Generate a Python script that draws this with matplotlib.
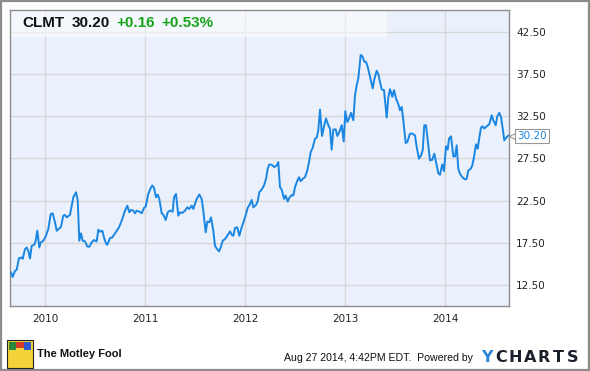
import matplotlib
matplotlib.use('Agg')
import matplotlib.pyplot as plt
import matplotlib.transforms as mtransforms
from matplotlib.patches import Rectangle

# CLMT weekly-ish closes (decimal year, price)
years = [
    2009.66, 2009.677, 2009.70, 2009.717, 2009.74, 2009.767, 2009.777, 2009.80, 2009.817, 2009.833,
    2009.85, 2009.867, 2009.893, 2009.907, 2009.923, 2009.943, 2009.957, 2009.983, 2010.007, 2010.033,
    2010.057, 2010.077, 2010.10, 2010.117, 2010.143, 2010.16, 2010.183, 2010.20, 2010.217, 2010.25,
    2010.267, 2010.283, 2010.31, 2010.327, 2010.343, 2010.36, 2010.377, 2010.40, 2010.423, 2010.443,
    2010.467, 2010.49, 2010.517, 2010.533, 2010.55, 2010.573, 2010.59, 2010.61, 2010.623, 2010.65,
    2010.673, 2010.70, 2010.74, 2010.767, 2010.80, 2010.823, 2010.843, 2010.86, 2010.883, 2010.90,
    2010.917, 2010.943, 2010.967, 2010.99, 2011.007, 2011.033, 2011.057, 2011.073, 2011.09, 2011.11,
    2011.127, 2011.143, 2011.167, 2011.183, 2011.207, 2011.227, 2011.25, 2011.277, 2011.29, 2011.31,
    2011.333, 2011.35, 2011.373, 2011.40, 2011.423, 2011.443, 2011.467, 2011.483, 2011.517, 2011.543,
    2011.567, 2011.583, 2011.607, 2011.623, 2011.643, 2011.66, 2011.683, 2011.70, 2011.717, 2011.74,
    2011.757, 2011.777, 2011.80, 2011.823, 2011.85, 2011.867, 2011.883, 2011.90, 2011.923, 2011.943,
    2011.967, 2012.00, 2012.027, 2012.05, 2012.067, 2012.083, 2012.11, 2012.127, 2012.143, 2012.167,
    2012.19, 2012.21, 2012.227, 2012.243, 2012.267, 2012.293, 2012.317, 2012.333, 2012.35, 2012.367,
    2012.39, 2012.407, 2012.427, 2012.443, 2012.467, 2012.483, 2012.50, 2012.517, 2012.54, 2012.557,
    2012.577, 2012.60, 2012.623, 2012.64, 2012.657, 2012.677, 2012.70, 2012.717, 2012.733, 2012.75,
    2012.77, 2012.79, 2012.81, 2012.833, 2012.85, 2012.867, 2012.883, 2012.907, 2012.923, 2012.943,
    2012.967, 2012.987, 2013.003, 2013.023, 2013.04, 2013.06, 2013.083, 2013.10, 2013.117, 2013.133,
    2013.157, 2013.173, 2013.193, 2013.21, 2013.227, 2013.25, 2013.277, 2013.293, 2013.317, 2013.333,
    2013.35, 2013.367, 2013.39, 2013.417, 2013.433, 2013.45, 2013.473, 2013.49, 2013.51, 2013.533,
    2013.55, 2013.567, 2013.583, 2013.607, 2013.623, 2013.65, 2013.673, 2013.70, 2013.717, 2013.74,
    2013.76, 2013.777, 2013.793, 2013.81, 2013.823, 2013.85, 2013.873, 2013.893, 2013.917, 2013.933,
    2013.95, 2013.973, 2013.99, 2014.01, 2014.027, 2014.04, 2014.06, 2014.083, 2014.10, 2014.117,
    2014.133, 2014.15, 2014.173, 2014.20, 2014.217, 2014.233, 2014.257, 2014.273, 2014.293, 2014.31,
    2014.327, 2014.343, 2014.36, 2014.377, 2014.393, 2014.417, 2014.443, 2014.467, 2014.483, 2014.507,
    2014.523, 2014.543, 2014.56, 2014.577, 2014.593, 2014.617, 2014.635,
]
prices = [
    13.97, 13.45, 14.17, 14.3, 15.68, 15.75, 15.6, 16.75, 16.94, 16.55,
    15.63, 17.14, 17.26, 17.74, 18.93, 16.94, 17.54, 17.74, 18.25, 19.12,
    20.9, 20.98, 19.92, 18.93, 19.2, 19.4, 20.71, 20.8, 20.51, 20.8,
    21.9, 22.89, 23.49, 22.58, 17.74, 18.61, 17.74, 17.66, 17.06, 17.02,
    17.54, 17.82, 17.66, 19.05, 18.81, 18.93, 18.13, 17.42, 17.26, 18.06,
    18.13, 18.61, 19.33, 20.12, 21.31, 21.9, 21.11, 21.39, 21.31, 20.99,
    21.31, 21.19, 20.99, 21.63, 21.79, 23.29, 24.0, 24.29, 24.0, 22.89,
    23.21, 22.7, 20.99, 20.83, 20.2, 21.11, 21.31, 21.19, 22.89, 23.29,
    20.71, 21.11, 21.03, 21.31, 21.7, 21.51, 21.9, 21.51, 22.7, 23.21,
    22.7, 21.31, 18.73, 20.0, 19.92, 20.51, 18.93, 17.14, 16.82, 16.47,
    16.94, 17.74, 17.94, 18.33, 18.85, 18.45, 18.33, 19.25, 19.33, 18.33,
    19.33, 20.51, 21.63, 22.1, 22.58, 21.7, 21.98, 22.41, 23.49, 23.81,
    24.29, 25.08, 26.27, 26.79, 26.75, 26.47, 26.67, 27.06, 24.08, 23.81,
    22.7, 23.1, 22.38, 22.82, 23.17, 23.1, 24.08, 24.68, 25.27, 24.8,
    25.08, 25.27, 26.07, 27.06, 28.25, 28.77, 29.85, 29.96, 30.83, 33.3,
    30.16, 31.31, 32.23, 31.43, 31.04, 28.54, 30.92, 30.95, 30.16, 30.63,
    31.43, 29.52, 33.1, 31.82, 32.23, 32.9, 32.02, 35.0, 36.19, 36.99,
    39.76, 39.64, 38.96, 38.96, 38.37, 37.18, 35.8, 36.87, 37.89, 37.5,
    36.58, 35.68, 35.6, 32.34, 34.72, 35.71, 34.8, 35.6, 34.61, 33.93,
    33.21, 33.61, 32.02, 29.32, 29.44, 30.44, 30.44, 30.24, 28.85, 27.46,
    27.86, 28.45, 31.43, 31.43, 30.04, 27.26, 27.34, 28.06, 26.67, 25.75,
    25.56, 26.79, 25.99, 28.93, 28.54, 29.85, 30.12, 27.74, 27.74, 29.05,
    26.27, 25.68, 25.27, 25.0, 25.08, 26.07, 26.27, 26.67, 27.86, 29.17,
    28.65, 29.96, 31.15, 31.31, 31.04, 31.31, 31.55, 32.62, 32.02, 31.43,
    32.5, 32.9, 32.42, 31.04, 29.64, 30.04, 30.20,
]

x_ticks = [2010, 2011, 2012, 2013, 2014]
x_labels = ['2010', '2011', '2012', '2013', '2014']
y_ticks = [12.5, 17.5, 22.5, 27.5, 32.5, 37.5, 42.5]

ticker = 'CLMT'
last_price = '30.20'
change = '+0.16'
change_pct = '+0.53%'

W, H = 590, 371
fig = plt.figure(figsize=(W / 100, H / 100), dpi=100)
fig.patch.set_facecolor('white')


def fx(px):
    return px / W


def fy(py):
    return 1 - py / H


# outer frame of the image
fig.add_artist(Rectangle((0.001, 0.002), 0.997, 0.996, transform=fig.transFigure,
                         fill=False, edgecolor='#8c8c8c', linewidth=1.6))

ax = fig.add_axes([fx(10), fy(306), fx(509) - fx(10), fy(10) - fy(306)])
ax.set_facecolor('#eaf1fc')
ax.plot(years, prices, color='#1a86e3', linewidth=1.4, solid_joinstyle='round', zorder=3)

ax.set_xlim(2009.65, 2014.64)
ax.set_ylim(10.0, 45.1)
ax.set_xticks(x_ticks)
ax.set_xticklabels(x_labels)
ax.set_yticks(y_ticks)
ax.set_yticklabels(['%.2f' % v for v in y_ticks])
ax.yaxis.tick_right()
ax.tick_params(length=0, labelsize=7.5, labelcolor='#222222')
ax.tick_params(axis='x', pad=6)
ax.tick_params(axis='y', pad=5)
ax.grid(True, color='#d6d6d6', linewidth=1.0)
ax.set_axisbelow(True)
for s in ax.spines.values():
    s.set_color('#8e8e8e')
    s.set_linewidth(1.0)

# lighter band behind the header
ax.add_patch(Rectangle((fx(10), fy(37)), fx(387) - fx(10), fy(10) - fy(37),
                       transform=fig.transFigure, facecolor='white', alpha=0.5,
                       edgecolor='none', zorder=2))

hdr = dict(fontsize=11, fontweight='bold', family='Liberation Sans', va='center')
fig.text(fx(22), fy(23), ticker, color='#111111', **hdr)
fig.text(fx(72), fy(23), last_price, color='#111111', **hdr)
fig.text(fx(116), fy(23), change, color='#17a317', **hdr)
fig.text(fx(161), fy(23), change_pct, color='#17a317', **hdr)

# last value flag: small notch plus boxed label
flag = mtransforms.blended_transform_factory(fig.transFigure, ax.transData)
ax.plot([fx(513)], [prices[-1]], marker='<', markersize=6, markerfacecolor='white',
        markeredgecolor='#999999', markeredgewidth=0.8, transform=flag, clip_on=False, zorder=5)
ax.text(fx(517), prices[-1], last_price, transform=flag, va='center', ha='left',
        fontsize=7.5, color='#1a86e3', clip_on=False, zorder=6,
        bbox=dict(boxstyle='square,pad=0.2', facecolor='white', edgecolor='#999999', linewidth=0.8))

# footer
fig.add_artist(Rectangle((fx(7), fy(368)), fx(33) - fx(7), fy(340) - fy(368),
                         transform=fig.transFigure, facecolor='#f3d23a', edgecolor='#222222', linewidth=0.8))
fig.add_artist(Rectangle((fx(9), fy(350)), fx(16) - fx(9), fy(342) - fy(350),
                         transform=fig.transFigure, facecolor='#2a8a3a', edgecolor='none'))
fig.add_artist(Rectangle((fx(16), fy(348)), fx(24) - fx(16), fy(342) - fy(348),
                         transform=fig.transFigure, facecolor='#d23a2a', edgecolor='none'))
fig.add_artist(Rectangle((fx(24), fy(350)), fx(31) - fx(24), fy(342) - fy(350),
                         transform=fig.transFigure, facecolor='#2a5ad0', edgecolor='none'))
fig.text(fx(37), fy(354), 'The Motley Fool', fontsize=8, fontweight='bold',
         family='Liberation Sans', color='#111111', va='center')

fig.text(fx(284), fy(358), 'Aug 27 2014, 4:42PM EDT.  Powered by', fontsize=7.6,
         family='Liberation Sans', color='#111111', va='center')
for i, ch in enumerate('YCHARTS'):
    fig.text(fx(486.5 + i * 14.4), fy(357), ch, fontsize=11.5, fontweight='bold',
             family='DejaVu Sans', ha='center', va='center',
             color='#2f86d6' if ch == 'Y' else '#1b1e2b')

fig.savefig('out.png', dpi=100)
